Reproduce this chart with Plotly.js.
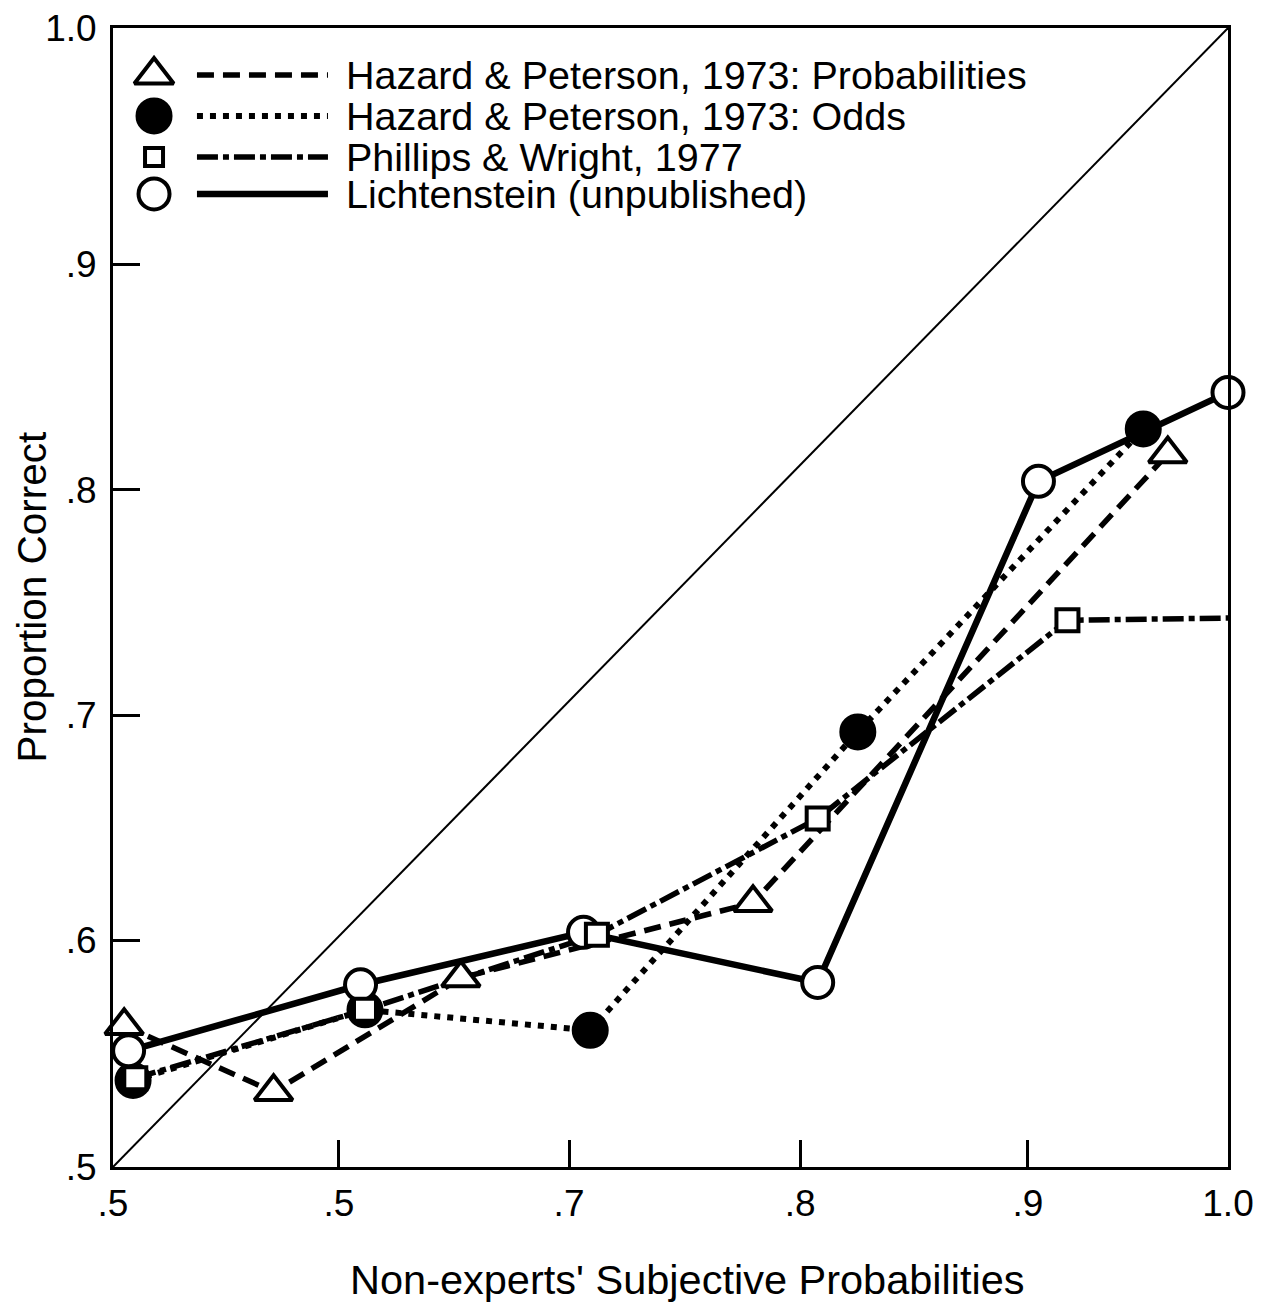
<!DOCTYPE html>
<html>
<head>
<meta charset="utf-8">
<script src="https://cdn.plot.ly/plotly-3.0.1.min.js"></script>
<style>
  html, body { margin: 0; padding: 0; background: #fff; }
  #chart { width: 1263px; height: 1306px; }
</style>
</head>
<body>
<div id="chart"></div>
<script>
// Axis ticks as drawn on the printed figure (positions along the axis, labels as printed)
const xTickVals = [0.5, 0.6013, 0.7045, 0.8081, 0.9103, 1.0];
const xTickText = ['.5', '.5', '.7', '.8', '.9', '1.0'];
const yTickVals = [0.5, 0.5996, 0.6984, 0.7972, 0.8964, 1.0];
const yTickText = ['.5', '.6', '.7', '.8', '.9', '1.0'];

// Hazard & Peterson, 1973: Probabilities
const hpProbX = [0.505, 0.572, 0.656, 0.787, 0.973];
const hpProbY = [0.562, 0.533, 0.583, 0.616, 0.813];
// Hazard & Peterson, 1973: Odds
const hpOddsX = [0.509, 0.613, 0.714, 0.834, 0.962];
const hpOddsY = [0.538, 0.569, 0.560, 0.691, 0.824];
// Phillips & Wright, 1977
const pwX = [0.510, 0.613, 0.717, 0.816, 0.928, 1.001];
const pwY = [0.539, 0.569, 0.602, 0.653, 0.740, 0.741];
// Lichtenstein (unpublished)
const lichX = [0.507, 0.611, 0.711, 0.816, 0.915, 1.000];
const lichY = [0.551, 0.580, 0.603, 0.581, 0.801, 0.840];

// Perfect calibration line
const diagX = [0.5, 1.0];
const diagY = [0.5, 1.0];

const seriesNames = [
  'Hazard & Peterson, 1973: Probabilities',
  'Hazard & Peterson, 1973: Odds',
  'Phillips & Wright, 1977',
  'Lichtenstein (unpublished)'
];

const FONT = 'Liberation Sans, Arial, Helvetica, sans-serif';
const INK = '#000';

const styles = [
  { line: { color: INK, width: 5.5, dash: '17px,9px' },
    marker: { symbol: 'triangle-up', size: 33, color: '#fff', line: { color: INK, width: 4 } },
    legMarker: { symbol: 'triangle-up', size: 34, color: '#fff', line: { color: INK, width: 4 } } },
  { line: { color: INK, width: 6, dash: '6px,7px' },
    marker: { symbol: 'circle', size: 35, color: INK, line: { color: INK, width: 2 } },
    legMarker: { symbol: 'circle', size: 35, color: INK, line: { color: INK, width: 2 } } },
  { line: { color: INK, width: 5.5, dash: '21px,5px,6px,5px' },
    marker: { symbol: 'square', size: 22, color: '#fff', line: { color: INK, width: 4 } },
    legMarker: { symbol: 'square', size: 18, color: '#fff', line: { color: INK, width: 4 } } },
  { line: { color: INK, width: 6.5 },
    marker: { symbol: 'circle', size: 31, color: '#fff', line: { color: INK, width: 4 } },
    legMarker: { symbol: 'circle', size: 31, color: '#fff', line: { color: INK, width: 4 } } }
];

const seriesX = [hpProbX, hpOddsX, pwX, lichX];
const seriesY = [hpProbY, hpOddsY, pwY, lichY];

const traces = [];

traces.push({
  x: diagX, y: diagY, mode: 'lines', hoverinfo: 'skip',
  line: { color: INK, width: 2 }, showlegend: false
});

// connecting lines first, so every marker sits above every line
for (let i = 0; i < 4; i++) {
  traces.push({
    x: seriesX[i], y: seriesY[i], mode: 'lines', name: seriesNames[i],
    line: styles[i].line, showlegend: false, cliponaxis: false
  });
}
// markers, stacked: filled circles, open circles, triangles, squares
[1, 3, 0, 2].forEach(i => {
  traces.push({
    x: seriesX[i], y: seriesY[i], mode: 'markers', name: seriesNames[i],
    marker: styles[i].marker, showlegend: false, cliponaxis: false
  });
});

// key in the upper-left corner, drawn on an overlay frame spanning the plot area (0..1)
const keyMarkerX = 0.0368;
const keyLineX = [0.0753, 0.1928];
const keyRowY = [0.9587, 0.9228, 0.8868, 0.8543];
const keyTextX = 0.2072;

for (let i = 0; i < 4; i++) {
  traces.push({
    x: keyLineX, y: [keyRowY[i], keyRowY[i]], xaxis: 'x2', yaxis: 'y2',
    mode: 'lines', line: styles[i].line, showlegend: false, hoverinfo: 'skip'
  });
  traces.push({
    x: [keyMarkerX], y: [keyRowY[i]], xaxis: 'x2', yaxis: 'y2',
    mode: 'markers', marker: styles[i].legMarker, showlegend: false, hoverinfo: 'skip'
  });
}

const annotations = seriesNames.map((name, i) => ({
  xref: 'paper', yref: 'paper', x: keyTextX, y: keyRowY[i],
  xanchor: 'left', yanchor: 'middle', text: name, showarrow: false,
  font: { family: FONT, size: 39.5, color: INK }
}));

annotations.push({
  xref: 'paper', yref: 'paper', x: 0.5152, y: -0.099,
  xanchor: 'center', yanchor: 'middle', showarrow: false,
  text: "Non-experts' Subjective Probabilities",
  font: { family: FONT, size: 41.5, color: INK }
});
annotations.push({
  xref: 'paper', yref: 'paper', x: -0.0735, y: 0.5,
  xanchor: 'center', yanchor: 'middle', showarrow: false, textangle: -90,
  text: 'Proportion Correct',
  font: { family: FONT, size: 40.5, color: INK }
});

const axisCommon = {
  showgrid: false, zeroline: false,
  showline: true, linecolor: INK, linewidth: 3, mirror: true,
  ticks: 'inside', ticklen: 27, tickwidth: 3, tickcolor: INK,
  tickfont: { family: FONT, size: 37, color: INK },
  tickmode: 'array', fixedrange: true
};

const layout = {
  width: 1263, height: 1306,
  margin: { l: 113, r: 35, t: 28, b: 139 },
  paper_bgcolor: '#fff', plot_bgcolor: '#fff',
  showlegend: false,
  xaxis: Object.assign({}, axisCommon, {
    range: [0.5, 1.0], tickvals: xTickVals, ticktext: xTickText, ticklabelstandoff: 2
  }),
  yaxis: Object.assign({}, axisCommon, {
    range: [0.5, 1.0], tickvals: yTickVals, ticktext: yTickText, ticklabelstandoff: 6
  }),
  xaxis2: { overlaying: 'x', anchor: 'y2', range: [0, 1], visible: false, fixedrange: true },
  yaxis2: { overlaying: 'y', anchor: 'x2', range: [0, 1], visible: false, fixedrange: true },
  annotations: annotations
};

Plotly.newPlot('chart', traces, layout, { staticPlot: true, displayModeBar: false });
</script>
</body>
</html>
